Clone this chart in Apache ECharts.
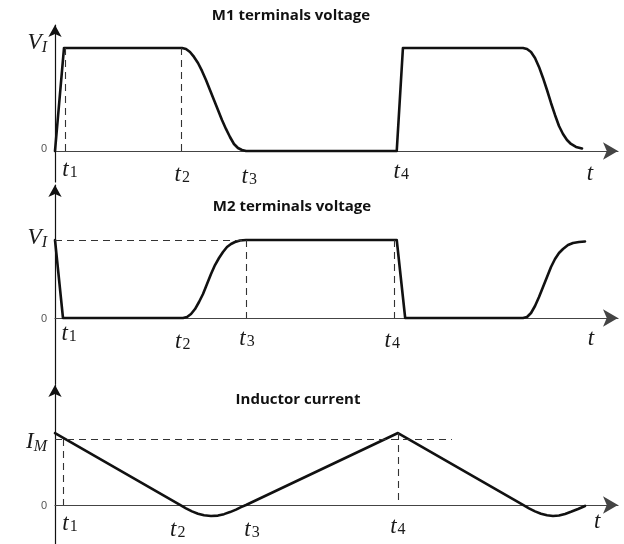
<!DOCTYPE html>
<html>
<head>
<meta charset="utf-8">
<script src="https://cdn.jsdelivr.net/npm/echarts@6/dist/echarts.min.js"></script>
<style>
  html, body { margin: 0; padding: 0; background: #ffffff; }
  #chart { width: 624px; height: 544px; }
</style>
</head>
<body>
<div id="chart"></div>
<script>
// Switching waveforms of a half-bridge: time is in arbitrary units,
// voltages are normalised to V_I and the current to I_M.

const panelTitles = ['M1 terminals voltage', 'M2 terminals voltage', 'Inductor current'];

// Time-axis label names (main letter, subscript)
const tickNames = [['t', '1'], ['t', '2'], ['t', '3'], ['t', '4'], ['t', '']];

// Where each time label sits on its panel
const m1TickAt = [2.66, 22.6, 34.5, 61.5, 95.0];
const m2TickAt = [2.5, 22.7, 34.1, 59.9, 95.2];
const iTickAt  = [2.66, 21.8, 35.0, 60.9, 96.3];

// Level names for the value axes (main letter, subscript)
const levelNames = [['V', 'I'], ['V', 'I'], ['I', 'M']];

// M1 drain-source voltage [time, V / V_I]
const m1Voltage = [
  [0, 0], [1.6, 1], [22.56, 1], [23.27, 0.99], [23.98, 0.961], [24.69, 0.913],
  [25.40, 0.854], [26.11, 0.777], [26.82, 0.689], [27.53, 0.592], [28.24, 0.495],
  [28.95, 0.398], [29.66, 0.301], [30.37, 0.214], [31.08, 0.136], [31.79, 0.068],
  [32.50, 0.029], [33.21, 0.01], [33.93, 0],
  [60.7, 0], [61.8, 1], [83.13, 1], [83.84, 0.99], [84.55, 0.961], [85.26, 0.903],
  [85.97, 0.816], [86.68, 0.709], [87.39, 0.592], [88.10, 0.466], [88.81, 0.350],
  [89.52, 0.243], [90.23, 0.165], [90.94, 0.107], [91.65, 0.068], [92.54, 0.039],
  [93.61, 0.024]
];

// M2 drain-source voltage [time, V / V_I]
const m2Voltage = [
  [0, 1], [1.42, 0], [22.74, 0], [23.45, 0.013], [24.16, 0.051], [24.87, 0.115],
  [25.58, 0.205], [26.29, 0.308], [27.0, 0.436], [27.71, 0.564], [28.42, 0.679],
  [29.13, 0.769], [29.84, 0.846], [30.55, 0.910], [31.26, 0.949], [31.97, 0.974],
  [32.86, 0.994], [33.93, 1],
  [60.7, 1], [62.2, 0], [83.13, 0], [83.84, 0.013], [84.55, 0.064], [85.26, 0.154],
  [85.97, 0.269], [86.68, 0.397], [87.39, 0.526], [88.10, 0.654], [88.81, 0.756],
  [89.52, 0.833], [90.23, 0.885], [91.12, 0.936], [92.01, 0.962], [93.07, 0.974],
  [94.14, 0.981]
];

// Inductor current [time, I / I_M]
const inductorCurrent = [
  [0, 1.09], [22.20, 0], [23.27, -0.052], [24.33, -0.097], [25.40, -0.133],
  [26.47, -0.156], [27.71, -0.167], [28.95, -0.161], [30.02, -0.139],
  [31.08, -0.108], [32.15, -0.070], [33.04, -0.033], [33.93, 0],
  [60.92, 1.09], [83.13, 0], [84.19, -0.052], [85.26, -0.097], [86.32, -0.133],
  [87.39, -0.156], [88.45, -0.167], [89.52, -0.159], [90.59, -0.136],
  [91.65, -0.103], [92.90, -0.061], [94.14, -0.015]
];

// Dashed guide segments [[t, v], [t, v]]
const m1Guides = [[[1.9, 1], [1.9, 0]], [[22.4, 1], [22.4, 0]]];
const m2Guides = [[[0, 1], [33.9, 1]], [[33.9, 1], [33.9, 0]], [[60.2, 1], [60.2, 0]]];
const iGuides  = [[[0, 1], [70.5, 1]], [[1.42, 1], [1.42, 0]], [[61.0, 1.09], [61.0, 0]]];

const T_MAX = 100;
const SERIF = 'Liberation Serif';
const INK = '#1a1a1a';
const MAIN_FS = 23;
const SUB_FS = 16;

const panels = [
  { data: m1Voltage, guides: m1Guides, ticks: m1TickAt,
    top: 25.0, height: 156.9, yMin: -0.3, yMax: 1.223,
    tickDrop: [3, 8, 10, 5, 7], levelShift: -6, zeroShift: -2.5 },
  { data: m2Voltage, guides: m2Guides, ticks: m2TickAt,
    top: 185.0, height: 199.3, yMin: -0.85, yMax: 1.705,
    tickDrop: [0, 8, 5, 7, 5], levelShift: -3, zeroShift: 1 },
  { data: inductorCurrent, guides: iGuides, ticks: iTickAt,
    top: 385.0, height: 158.9, yMin: -0.59, yMax: 1.818,
    tickDrop: [3, 9, 9, 6, 1], levelShift: 2, zeroShift: 1.5 }
];
const titlePos = [[291, 8.5], [292, 199.5], [298, 392]];

function nearestIndex(list, v) {
  let best = 0;
  list.forEach((x, i) => { if (Math.abs(x - v) < Math.abs(list[best] - v)) best = i; });
  return best;
}

// Bottom-aligned tokens: a taller line pushes the glyphs further down.
function timeRich(drops) {
  const rich = {};
  drops.forEach((d, k) => {
    rich['m' + k] = { fontFamily: SERIF, fontStyle: 'italic', fontSize: MAIN_FS,
      lineHeight: 27 + d, verticalAlign: 'bottom', color: INK };
    rich['s' + k] = { fontFamily: SERIF, fontSize: SUB_FS,
      lineHeight: 27 + d, verticalAlign: 'bottom', padding: [0, 0, 0, 1], color: INK };
  });
  return rich;
}

// distance from the zero line down to the bottom edge of a panel
function belowZero(p) {
  return p.height * (-p.yMin) / (p.yMax - p.yMin);
}

const xAxes = [];
panels.forEach((p, i) => {
  // the drawn time axis, crossing the value axis at zero
  xAxes.push({
    type: 'value', gridIndex: i, min: 0, max: T_MAX,
    axisLine: { onZero: true, symbol: ['none', 'arrow'], symbolSize: [13, 15],
      lineStyle: { color: '#444', width: 1.2 } },
    axisTick: { show: false }, splitLine: { show: false }, axisLabel: { show: false }
  });
});
panels.forEach((p, i) => {
  // time labels, lifted up to sit under the zero line
  xAxes.push({
    type: 'value', gridIndex: i, min: 0, max: T_MAX, position: 'bottom',
    offset: -belowZero(p),
    axisLine: { show: false, onZero: false }, axisTick: { show: false }, splitLine: { show: false },
    axisLabel: {
      customValues: p.ticks, margin: 0, hideOverlap: false,
      formatter: v => {
        const k = nearestIndex(p.ticks, v);
        const nm = tickNames[k];
        return '{m' + k + '|' + nm[0] + '}' + (nm[1] ? '{s' + k + '|' + nm[1] + '}' : '');
      },
      rich: timeRich(p.tickDrop)
    }
  });
});

const option = {
  animation: false,
  backgroundColor: '#ffffff',
  title: panelTitles.map((t, i) => ({
    text: t, left: titlePos[i][0], top: titlePos[i][1], textAlign: 'center', padding: 0,
    textStyle: { fontFamily: 'Open Sans', fontWeight: 'bold', fontSize: 15, color: '#111' }
  })),
  grid: panels.map(p => ({ left: 55, width: T_MAX * 5.63, top: p.top, height: p.height })),
  xAxis: xAxes,
  yAxis: panels.map((p, i) => ({
    type: 'value', gridIndex: i, min: p.yMin, max: p.yMax,
    axisLine: { onZero: true, symbol: ['none', 'arrow'], symbolSize: [10, 12],
      lineStyle: { color: '#111', width: 1.2 } },
    axisTick: { show: false },
    splitLine: { show: false },
    axisLabel: {
      customValues: [0, 1], margin: 8, hideOverlap: false,
      formatter: v => v === 0 ? '{z|0}' : '{m|' + levelNames[i][0] + '}{s|' + levelNames[i][1] + '}',
      rich: {
        z: { fontFamily: 'Liberation Sans', fontSize: 11, color: '#555',
          lineHeight: 11 + 2 * p.zeroShift, verticalAlign: 'bottom' },
        m: { fontFamily: SERIF, fontStyle: 'italic', fontSize: MAIN_FS, color: INK,
          lineHeight: 28 + 2 * p.levelShift, verticalAlign: 'bottom', padding: [0, 0, 2, 0] },
        s: { fontFamily: SERIF, fontStyle: 'italic', fontSize: SUB_FS, color: INK,
          lineHeight: 28 + 2 * p.levelShift, verticalAlign: 'bottom' }
      }
    }
  })),
  series: panels.map((p, i) => ({
    type: 'line', xAxisIndex: i, yAxisIndex: i, data: p.data,
    showSymbol: false, clip: false,
    lineStyle: { color: '#111', width: 2.6, join: 'round', cap: 'round' },
    markLine: {
      silent: true, symbol: ['none', 'none'], label: { show: false },
      lineStyle: { type: [7, 5], color: '#333', width: 1.1 },
      data: p.guides.map(g => [{ coord: g[0] }, { coord: g[1] }])
    }
  }))
};

const chart = echarts.init(document.getElementById('chart'), null, { renderer: 'canvas' });
chart.setOption(option);
</script>
</body>
</html>
